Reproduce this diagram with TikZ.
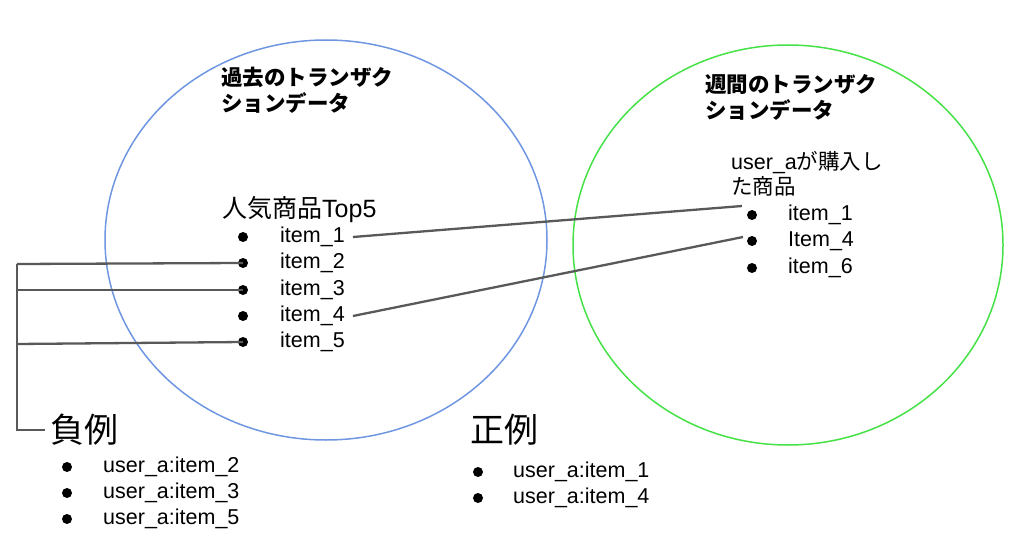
\documentclass[tikz,border=0pt]{standalone}
\usepackage{fontspec}
\setmainfont{Liberation Sans}
\newfontfamily\jp{Noto Sans CJK JP}
\begin{document}
\begin{tikzpicture}[x=1pt,y=-1pt,
  txt/.style={anchor=west,inner sep=0pt,font=\fontsize{21.5}{24}\selectfont},
  title/.style={anchor=west,inner sep=0pt,align=left,font=\jp\bfseries\fontsize{21.5}{26}\selectfont},
  head/.style={anchor=west,inner sep=0pt,font=\fontsize{25}{28}\selectfont},
  big/.style={anchor=west,inner sep=0pt,font=\jp\fontsize{34}{36}\selectfont},
  dot/.style={circle,fill=black,inner sep=0pt,minimum size=10pt},
  conn/.style={draw=black!65,line width=2.3pt},
  ring/.style={line width=1.5pt}]
\useasboundingbox (0,0) rectangle (1024,548);
% circles
\draw[ring,draw={rgb,255:red,110;green,150;blue,225}] (326,240) ellipse [x radius=221,y radius=200];
\draw[ring,draw={rgb,255:red,70;green,225;blue,70}] (788,245) ellipse [x radius=215,y radius=200];
% titles
\node[title] (t1) at (221,90) {過去のトランザク\\ションデータ};
\node[title] (t2) at (705,97) {週間のトランザク\\ションデータ};
% left list
\node[head] (top5) at (222,210) {{\jp 人気商品}Top5};
\foreach \i/\y in {1/237,2/263,3/290,4/316,5/342}{
  \node[dot] (lb\i) at (243,\y) {};
  \node[txt] (l\i) at (280,\y) {item\_\i};
}
% right list
\node[anchor=west,inner sep=0pt,align=left,font=\fontsize{21.5}{25}\selectfont] (rh) at (731,174) {user\_a{\jp が購入し}\\{\jp た商品}};
\node[dot] (rb1) at (752,215) {};
\node[txt] (r1) at (788,215) {item\_1};
\node[dot] (rb2) at (752,241) {};
\node[txt] (r2) at (788,241) {Item\_4};
\node[dot] (rb3) at (752,268) {};
\node[txt] (r3) at (788,268) {item\_6};
% connectors
\draw[conn] (l1.east) ++(8,0) coordinate (l1e) (l1e) -- ([xshift=-10pt,yshift=9pt]rb1.center);
\draw[conn] (l4.east) ++(8,0) coordinate (l4e) (l4e) -- ([xshift=-9pt,yshift=4pt]rb2.center);
% bracket
\coordinate (b2) at (17,264);
\coordinate (b3) at (17,290);
\coordinate (b5) at (17,344);
\coordinate (bb) at (17,430);
\node[big] (neg) at (50,430) {負例};
\node[big] (pos) at (470,430) {正例};
\draw[conn] (b2) -- (lb2.center);
\draw[conn] (b3) -- (lb3.center);
\draw[conn] (b5) -- (lb5.center);
\draw[conn] (b2) -- (bb) -- ([xshift=-5pt]neg.west);
% negative list
\foreach \i/\n/\y in {1/2/467,2/3/493,3/5/519}{
  \node[dot] (nb\i) at (67,\y) {};
  \node[txt] (n\i) at (103,\y) {user\_a:item\_\n};
}
\foreach \i/\n/\y in {1/1/472,2/4/498}{
  \node[dot] (pb\i) at (478,\y) {};
  \node[txt] (p\i) at (513,\y) {user\_a:item\_\n};
}
\end{tikzpicture}
\end{document}
